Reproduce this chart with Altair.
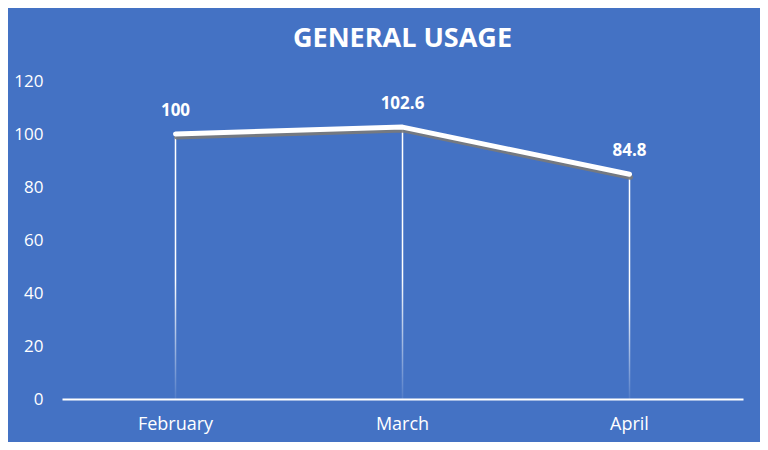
import altair as alt
import pandas as pd

months = ["February", "March", "April"]
usage = [100, 102.6, 84.8]
labels = ["100", "102.6", "84.8"]
y_ticks = [0, 20, 40, 60, 80, 100, 120]

df = pd.DataFrame({"month": months, "usage": usage, "label": labels})

BG = "#4472C4"
FONT = "Open Sans"

x_enc = alt.X("month:N", sort=months, title=None,
              scale=alt.Scale(paddingInner=0, paddingOuter=0),
              axis=alt.Axis(labelAngle=0, labelColor="white", labelFontSize=18,
                            labelFont=FONT, labelPadding=16, ticks=False,
                            domainColor="white", domainWidth=2))
y_enc = alt.Y("usage:Q", title=None,
              scale=alt.Scale(domain=[0, 120], nice=False),
              axis=alt.Axis(values=y_ticks, labelColor="white", labelFontSize=17,
                            labelFont=FONT, labelPadding=19, ticks=False,
                            domain=False, grid=False))

base = alt.Chart(df)

drop = base.mark_bar(
    size=1.5,
    color=alt.Gradient(
        gradient="linear", x1=0, x2=0, y1=0, y2=1,
        stops=[alt.GradientStop(color="white", offset=0),
               alt.GradientStop(color="white", offset=0.55),
               alt.GradientStop(color="rgba(255,255,255,0.08)", offset=1)],
    ),
).encode(x=x_enc, y=y_enc)

shadow = base.mark_line(color="#7a7a7a", opacity=0.9, strokeWidth=5,
                        strokeCap="round", strokeJoin="round",
                        xOffset=1, yOffset=3).encode(x=x_enc, y=y_enc)

line = base.mark_line(color="white", strokeWidth=5, strokeCap="round",
                      strokeJoin="round").encode(x=x_enc, y=y_enc)

text = base.mark_text(color="white", fontSize=17, fontWeight="bold", font=FONT,
                      dy=-23).encode(x=x_enc, y=y_enc, text="label:N")

chart = alt.layer(drop, shadow, line, text).properties(
    width=681, height=318,
    background=BG,
    padding={"left": 54, "top": 73, "right": 17, "bottom": 43},
    autosize=alt.AutoSizeParams(type="none"),
    title=alt.TitleParams("GENERAL USAGE", color="white", fontSize=27,
                          font=FONT, fontWeight="bold", anchor="middle",
                          offset=19, frame="group"),
).configure_view(stroke=None)

chart.save("out.html", embed_options={"renderer": "svg", "actions": False})
